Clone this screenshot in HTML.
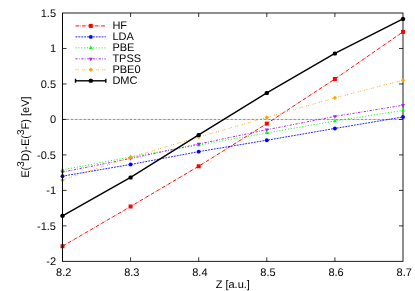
<!DOCTYPE html>
<html><head><meta charset="utf-8"><title>chart</title>
<style>html,body{margin:0;padding:0;background:#fff;}body{width:415px;height:291px;overflow:hidden;font-family:"Liberation Sans",sans-serif;}</style>
</head><body>
<svg width="415" height="291" viewBox="0 0 415 291" style="display:block;will-change:transform;opacity:0.999">
<rect width="415" height="291" fill="#fff"/>
<g font-family="Liberation Sans, sans-serif" font-size="11px" fill="#000" text-rendering="geometricPrecision">
<line x1="62.5" y1="119.44" x2="403.0" y2="119.44" stroke="#000" stroke-width="0.45" stroke-dasharray="2.4 0.7 0.4 0.7"/>
<rect x="62.5" y="13.0" width="340.5" height="248.35000000000002" fill="none" stroke="#000" stroke-width="0.88"/>
<polyline points="62.50,246.24 130.60,206.50 198.70,166.27 266.80,123.62 334.90,78.99 403.00,31.87" fill="none" stroke="#ff0000" stroke-width="0.95" stroke-dasharray="3.8 1.05 0.5 1.05"/>
<rect x="60.50" y="244.24" width="4.0" height="4.0" fill="#ff0000"/>
<rect x="128.60" y="204.50" width="4.0" height="4.0" fill="#ff0000"/>
<rect x="196.70" y="164.27" width="4.0" height="4.0" fill="#ff0000"/>
<rect x="264.80" y="121.62" width="4.0" height="4.0" fill="#ff0000"/>
<rect x="332.90" y="76.99" width="4.0" height="4.0" fill="#ff0000"/>
<rect x="401.00" y="29.87" width="4.0" height="4.0" fill="#ff0000"/>
<polyline points="62.50,176.13 130.60,164.49 198.70,151.65 266.80,140.23 334.90,128.45 403.00,116.95" fill="none" stroke="#0000ff" stroke-width="0.85" stroke-dasharray="1.9 1.0"/>
<circle cx="62.50" cy="176.13" r="1.95" fill="#0000ff"/>
<circle cx="130.60" cy="164.49" r="1.95" fill="#0000ff"/>
<circle cx="198.70" cy="151.65" r="1.95" fill="#0000ff"/>
<circle cx="266.80" cy="140.23" r="1.95" fill="#0000ff"/>
<circle cx="334.90" cy="128.45" r="1.95" fill="#0000ff"/>
<circle cx="403.00" cy="116.95" r="1.95" fill="#0000ff"/>
<polyline points="62.50,169.89 130.60,156.90 198.70,145.05 266.80,132.92 334.90,121.00 403.00,110.42" fill="none" stroke="#00ff00" stroke-width="1.0" stroke-dasharray="1.0 1.9"/>
<path d="M62.50 167.49 L64.50 171.09 L60.50 171.09 Z" fill="#00ff00"/>
<path d="M130.60 154.50 L132.60 158.10 L128.60 158.10 Z" fill="#00ff00"/>
<path d="M198.70 142.65 L200.70 146.25 L196.70 146.25 Z" fill="#00ff00"/>
<path d="M266.80 130.52 L268.80 134.12 L264.80 134.12 Z" fill="#00ff00"/>
<path d="M334.90 118.60 L336.90 122.20 L332.90 122.20 Z" fill="#00ff00"/>
<path d="M403.00 108.02 L405.00 111.62 L401.00 111.62 Z" fill="#00ff00"/>
<polyline points="62.50,172.09 130.60,158.46 198.70,143.99 266.80,129.72 334.90,116.38 403.00,105.24" fill="none" stroke="#a020f0" stroke-width="0.95" stroke-dasharray="2.2 1.2 0.8 1.6"/>
<path d="M62.50 174.49 L64.50 170.89 L60.50 170.89 Z" fill="#a020f0"/>
<path d="M130.60 160.86 L132.60 157.26 L128.60 157.26 Z" fill="#a020f0"/>
<path d="M198.70 146.39 L200.70 142.79 L196.70 142.79 Z" fill="#a020f0"/>
<path d="M266.80 132.12 L268.80 128.52 L264.80 128.52 Z" fill="#a020f0"/>
<path d="M334.90 118.78 L336.90 115.18 L332.90 115.18 Z" fill="#a020f0"/>
<path d="M403.00 107.64 L405.00 104.04 L401.00 104.04 Z" fill="#a020f0"/>
<polyline points="62.50,180.03 130.60,157.40 198.70,137.03 266.80,117.45 334.90,97.86 403.00,80.20" fill="none" stroke="#ffa500" stroke-width="0.9" stroke-dasharray="1.1 1.0 1.1 3.5"/>
<path d="M62.50 177.83 L64.70 180.03 L62.50 182.23 L60.30 180.03 Z" fill="#ffa500"/>
<path d="M130.60 155.20 L132.80 157.40 L130.60 159.60 L128.40 157.40 Z" fill="#ffa500"/>
<path d="M198.70 134.83 L200.90 137.03 L198.70 139.23 L196.50 137.03 Z" fill="#ffa500"/>
<path d="M266.80 115.25 L269.00 117.45 L266.80 119.65 L264.60 117.45 Z" fill="#ffa500"/>
<path d="M334.90 95.66 L337.10 97.86 L334.90 100.06 L332.70 97.86 Z" fill="#ffa500"/>
<path d="M403.00 78.00 L405.20 80.20 L403.00 82.40 L400.80 80.20 Z" fill="#ffa500"/>
<polyline points="62.50,215.87 130.60,177.41 198.70,134.90 266.80,92.97 334.90,53.45 403.00,18.89" fill="none" stroke="#000000" stroke-width="1.4"/>
<rect x="60.40" y="213.87" width="4.2" height="4.0" rx="1.5" fill="#000000"/>
<rect x="128.50" y="175.41" width="4.2" height="4.0" rx="1.5" fill="#000000"/>
<rect x="196.60" y="132.90" width="4.2" height="4.0" rx="1.5" fill="#000000"/>
<rect x="264.70" y="90.97" width="4.2" height="4.0" rx="1.5" fill="#000000"/>
<rect x="332.80" y="51.45" width="4.2" height="4.0" rx="1.5" fill="#000000"/>
<rect x="400.90" y="16.89" width="4.2" height="4.0" rx="1.5" fill="#000000"/>
<line x1="62.5" y1="13.0" x2="62.5" y2="261.35" stroke="#000" stroke-width="0.95"/>
<text x="56" y="16.90" text-anchor="end">1.5</text>
<line x1="62.5" y1="48.48" x2="66.5" y2="48.48" stroke="#000" stroke-width="0.8"/>
<line x1="403.0" y1="48.48" x2="399.0" y2="48.48" stroke="#000" stroke-width="0.8"/>
<text x="56" y="52.38" text-anchor="end">1</text>
<line x1="62.5" y1="83.96" x2="66.5" y2="83.96" stroke="#000" stroke-width="0.8"/>
<line x1="403.0" y1="83.96" x2="399.0" y2="83.96" stroke="#000" stroke-width="0.8"/>
<text x="56" y="87.86" text-anchor="end">0.5</text>
<line x1="62.5" y1="119.44" x2="66.5" y2="119.44" stroke="#000" stroke-width="0.8"/>
<line x1="403.0" y1="119.44" x2="399.0" y2="119.44" stroke="#000" stroke-width="0.8"/>
<text x="56" y="123.34" text-anchor="end">0</text>
<line x1="62.5" y1="154.91" x2="66.5" y2="154.91" stroke="#000" stroke-width="0.8"/>
<line x1="403.0" y1="154.91" x2="399.0" y2="154.91" stroke="#000" stroke-width="0.8"/>
<text x="56" y="158.81" text-anchor="end">-0.5</text>
<line x1="62.5" y1="190.39" x2="66.5" y2="190.39" stroke="#000" stroke-width="0.8"/>
<line x1="403.0" y1="190.39" x2="399.0" y2="190.39" stroke="#000" stroke-width="0.8"/>
<text x="56" y="194.29" text-anchor="end">-1</text>
<line x1="62.5" y1="225.87" x2="66.5" y2="225.87" stroke="#000" stroke-width="0.8"/>
<line x1="403.0" y1="225.87" x2="399.0" y2="225.87" stroke="#000" stroke-width="0.8"/>
<text x="56" y="229.77" text-anchor="end">-1.5</text>
<text x="56" y="265.25" text-anchor="end">-2</text>
<text x="63.70" y="276" text-anchor="middle">8.2</text>
<line x1="130.60" y1="261.35" x2="130.60" y2="257.35" stroke="#000" stroke-width="0.8"/>
<line x1="130.60" y1="13.0" x2="130.60" y2="17.0" stroke="#000" stroke-width="0.8"/>
<text x="131.80" y="276" text-anchor="middle">8.3</text>
<line x1="198.70" y1="261.35" x2="198.70" y2="257.35" stroke="#000" stroke-width="0.8"/>
<line x1="198.70" y1="13.0" x2="198.70" y2="17.0" stroke="#000" stroke-width="0.8"/>
<text x="199.90" y="276" text-anchor="middle">8.4</text>
<line x1="266.80" y1="261.35" x2="266.80" y2="257.35" stroke="#000" stroke-width="0.8"/>
<line x1="266.80" y1="13.0" x2="266.80" y2="17.0" stroke="#000" stroke-width="0.8"/>
<text x="268.00" y="276" text-anchor="middle">8.5</text>
<line x1="334.90" y1="261.35" x2="334.90" y2="257.35" stroke="#000" stroke-width="0.8"/>
<line x1="334.90" y1="13.0" x2="334.90" y2="17.0" stroke="#000" stroke-width="0.8"/>
<text x="336.10" y="276" text-anchor="middle">8.6</text>
<text x="404.20" y="276" text-anchor="middle">8.7</text>
<text x="232.75" y="288" text-anchor="middle">Z [a.u.]</text>
<text transform="translate(29.4,137.1) rotate(-90)" text-anchor="middle">E(<tspan font-size="10px" dy="-5">3</tspan><tspan dy="5">D)-E(</tspan><tspan font-size="10px" dy="-5">3</tspan><tspan dy="5">F) [eV]</tspan></text>
<line x1="75.5" y1="25.90" x2="105.8" y2="25.90" stroke="#ff0000" stroke-width="0.95" stroke-dasharray="3.8 1.05 0.5 1.05"/>
<rect x="88.80" y="23.90" width="4.0" height="4.0" fill="#ff0000"/>
<text x="112.4" y="29.40">HF</text>
<line x1="75.5" y1="36.88" x2="105.8" y2="36.88" stroke="#0000ff" stroke-width="0.85" stroke-dasharray="1.9 1.0"/>
<circle cx="90.80" cy="36.88" r="1.95" fill="#0000ff"/>
<text x="112.4" y="40.38">LDA</text>
<line x1="75.5" y1="47.86" x2="105.8" y2="47.86" stroke="#00ff00" stroke-width="1.0" stroke-dasharray="1.0 1.9"/>
<path d="M90.80 45.46 L92.80 49.06 L88.80 49.06 Z" fill="#00ff00"/>
<text x="112.4" y="51.36">PBE</text>
<line x1="75.5" y1="58.84" x2="105.8" y2="58.84" stroke="#a020f0" stroke-width="0.95" stroke-dasharray="2.2 1.2 0.8 1.6"/>
<path d="M90.80 61.24 L92.80 57.64 L88.80 57.64 Z" fill="#a020f0"/>
<text x="112.4" y="62.34">TPSS</text>
<line x1="75.5" y1="69.82" x2="105.8" y2="69.82" stroke="#ffa500" stroke-width="0.9" stroke-dasharray="1.1 1.0 1.1 3.5"/>
<path d="M90.80 67.62 L93.00 69.82 L90.80 72.02 L88.60 69.82 Z" fill="#ffa500"/>
<text x="112.4" y="73.32">PBE0</text>
<line x1="75.5" y1="80.80" x2="105.8" y2="80.80" stroke="#000000" stroke-width="1.4"/>
<path d="M75.5 78.80V82.80M105.8 78.80V82.80" stroke="#000" stroke-width="1.4"/>
<rect x="88.70" y="78.80" width="4.2" height="4.0" rx="1.5" fill="#000000"/>
<text x="112.4" y="84.30">DMC</text>
</g></svg>
</body></html>
